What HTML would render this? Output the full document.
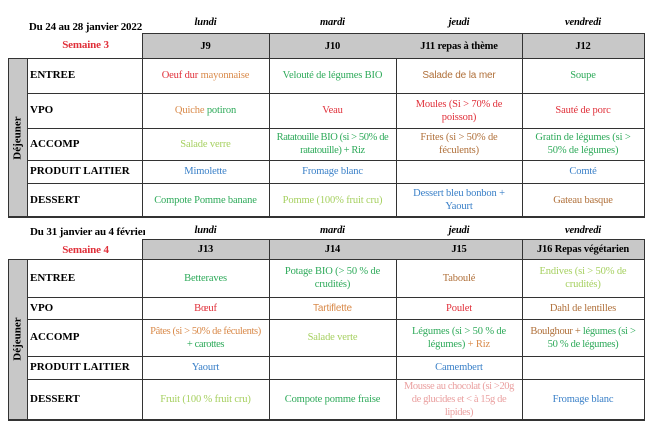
<!DOCTYPE html>
<html><head><meta charset="utf-8"><style>
body{margin:0;width:650px;height:424px;background:#fff;position:relative;overflow:hidden;font-family:"Liberation Serif",serif;font-size:10.5px}
.c{position:absolute;display:flex;align-items:center;justify-content:center;text-align:center;line-height:13px;box-sizing:border-box;white-space:nowrap;letter-spacing:-0.15px}
.l{justify-content:flex-start;padding-left:3px;font-weight:bold;font-size:11px;letter-spacing:0}
.h{background:#c8c8c8;font-weight:bold}
.b{position:absolute;background:#333}
.r{color:#e0303a}.o{color:#d98a4a}.br{color:#b0703a}.g{color:#2eaa5a}.lg{color:#a6d060}.bl{color:#3a80c8}.p{color:#eaa0a0}
.s{font-family:"Liberation Sans",sans-serif;font-size:10px}
.d{font-style:italic;font-weight:bold}
.v{position:absolute;background:#c8c8c8;display:flex;align-items:center;justify-content:center}
.v span{transform:rotate(-90deg);font-weight:bold;white-space:nowrap;font-size:11px}
</style></head><body>

<!-- Table 1 -->
<div class="c" style="left:28px;top:20px;width:115px;height:14px;font-weight:bold;font-size:11px">Du 24 au 28 janvier 2022</div>
<div class="c r" style="left:28px;top:38px;width:115px;height:14px;font-weight:bold;font-size:11px">Semaine 3</div>
<div class="c d" style="left:142px;top:14px;width:127px;height:16px">lundi</div>
<div class="c d" style="left:269px;top:14px;width:127px;height:16px">mardi</div>
<div class="c d" style="left:396px;top:14px;width:126px;height:16px">jeudi</div>
<div class="c d" style="left:522px;top:14px;width:122px;height:16px">vendredi</div>
<div class="c h" style="left:142px;top:34px;width:502px;height:24px"></div>
<div class="c" style="left:142px;top:34px;width:127px;height:24px;font-weight:bold">J9</div>
<div class="c" style="left:269px;top:34px;width:127px;height:24px;font-weight:bold">J10</div>
<div class="c" style="left:396px;top:34px;width:126px;height:24px;font-weight:bold">J11 repas à thème</div>
<div class="c" style="left:522px;top:34px;width:122px;height:24px;font-weight:bold">J12</div>
<div class="v" style="left:8px;top:58px;width:19px;height:159px"><span>Déjeuner</span></div>

<div class="c l" style="left:27px;top:58px;width:115px;height:35px">ENTREE</div>
<div class="c l" style="left:27px;top:93px;width:115px;height:35px">VPO</div>
<div class="c l" style="left:27px;top:128px;width:115px;height:32px">ACCOMP</div>
<div class="c l" style="left:27px;top:160px;width:115px;height:23px">PRODUIT LAITIER</div>
<div class="c l" style="left:27px;top:183px;width:115px;height:34px">DESSERT</div>

<div class="c" style="left:142px;top:58px;width:127px;height:35px"><span><span class="r">Oeuf dur </span><span class="o">mayonnaise</span></span></div>
<div class="c g" style="left:269px;top:58px;width:127px;height:35px">Velouté de légumes BIO</div>
<div class="c br s" style="left:396px;top:58px;width:126px;height:35px">Salade de la mer</div>
<div class="c g" style="left:522px;top:58px;width:122px;height:35px">Soupe</div>

<div class="c" style="left:142px;top:93px;width:127px;height:35px"><span><span class="o">Quiche </span><span class="g">potiron</span></span></div>
<div class="c r" style="left:269px;top:93px;width:127px;height:35px">Veau</div>
<div class="c r" style="left:396px;top:93px;width:126px;height:35px">Moules (Si &gt; 70% de<br>poisson)</div>
<div class="c r" style="left:522px;top:93px;width:122px;height:35px">Sauté de porc</div>

<div class="c lg" style="left:142px;top:128px;width:127px;height:32px">Salade verre</div>
<div class="c g" style="left:269px;top:128px;width:127px;height:32px;letter-spacing:-0.4px">Ratatouille BIO (si &gt; 50% de<br>ratatouille) + Riz</div>
<div class="c br" style="left:396px;top:128px;width:126px;height:32px">Frites (si &gt; 50% de<br>féculents)</div>
<div class="c g" style="left:522px;top:128px;width:122px;height:32px">Gratin de légumes (si &gt;<br>50% de légumes)</div>

<div class="c bl" style="left:142px;top:160px;width:127px;height:23px">Mimolette</div>
<div class="c bl" style="left:269px;top:160px;width:127px;height:23px">Fromage blanc</div>
<div class="c bl" style="left:522px;top:160px;width:122px;height:23px">Comté</div>

<div class="c g" style="left:142px;top:183px;width:127px;height:34px">Compote Pomme banane</div>
<div class="c lg" style="left:269px;top:183px;width:127px;height:34px">Pomme (100% fruit cru)</div>
<div class="c bl" style="left:396px;top:183px;width:126px;height:34px">Dessert bleu bonbon +<br>Yaourt</div>
<div class="c br" style="left:522px;top:183px;width:122px;height:34px">Gateau basque</div>

<!-- lines table1 -->
<div class="b" style="left:142px;top:33px;width:503px;height:1px"></div>
<div class="b" style="left:8px;top:58px;width:637px;height:1px"></div>
<div class="b" style="left:27px;top:93px;width:618px;height:1px"></div>
<div class="b" style="left:27px;top:128px;width:618px;height:1px"></div>
<div class="b" style="left:27px;top:160px;width:618px;height:1px"></div>
<div class="b" style="left:27px;top:183px;width:618px;height:1px"></div>
<div class="b" style="left:8px;top:216px;width:637px;height:2px"></div>
<div class="b" style="left:8px;top:58px;width:1px;height:159px"></div>
<div class="b" style="left:27px;top:58px;width:1px;height:159px"></div>
<div class="b" style="left:142px;top:33px;width:1px;height:184px"></div>
<div class="b" style="left:269px;top:33px;width:1px;height:184px"></div>
<div class="b" style="left:396px;top:58px;width:1px;height:159px"></div>
<div class="b" style="left:522px;top:33px;width:1px;height:184px"></div>
<div class="b" style="left:644px;top:33px;width:1px;height:184px"></div>

<!-- Table 2 -->
<div class="c" style="left:28px;top:225px;width:117px;height:14px;font-weight:bold;font-size:11px;justify-content:flex-start;padding-left:2px;overflow:hidden">Du 31 janvier au 4 février</div>
<div class="c r" style="left:28px;top:243px;width:115px;height:14px;font-weight:bold;font-size:11px">Semaine 4</div>
<div class="c d" style="left:142px;top:222px;width:127px;height:16px">lundi</div>
<div class="c d" style="left:269px;top:222px;width:127px;height:16px">mardi</div>
<div class="c d" style="left:396px;top:222px;width:126px;height:16px">jeudi</div>
<div class="c d" style="left:522px;top:222px;width:122px;height:16px">vendredi</div>
<div class="c h" style="left:142px;top:240px;width:502px;height:19px"></div>
<div class="c" style="left:142px;top:240px;width:127px;height:19px;font-weight:bold">J13</div>
<div class="c" style="left:269px;top:240px;width:127px;height:19px;font-weight:bold">J14</div>
<div class="c" style="left:396px;top:240px;width:126px;height:19px;font-weight:bold">J15</div>
<div class="c" style="left:522px;top:240px;width:122px;height:19px;font-weight:bold">J16 Repas végétarien</div>
<div class="v" style="left:8px;top:259px;width:19px;height:160px"><span>Déjeuner</span></div>

<div class="c l" style="left:27px;top:259px;width:115px;height:38px">ENTREE</div>
<div class="c l" style="left:27px;top:297px;width:115px;height:22px">VPO</div>
<div class="c l" style="left:27px;top:319px;width:115px;height:37px">ACCOMP</div>
<div class="c l" style="left:27px;top:356px;width:115px;height:23px">PRODUIT LAITIER</div>
<div class="c l" style="left:27px;top:379px;width:115px;height:40px">DESSERT</div>

<div class="c g" style="left:142px;top:259px;width:127px;height:38px">Betteraves</div>
<div class="c g" style="left:269px;top:259px;width:127px;height:38px">Potage BIO (&gt; 50 % de<br>crudités)</div>
<div class="c br" style="left:396px;top:259px;width:126px;height:38px">Taboulé</div>
<div class="c lg" style="left:522px;top:259px;width:122px;height:38px">Endives (si &gt; 50% de<br>crudités)</div>

<div class="c r" style="left:142px;top:297px;width:127px;height:22px">Bœuf</div>
<div class="c o s" style="left:269px;top:297px;width:127px;height:22px">Tartiflette</div>
<div class="c r" style="left:396px;top:297px;width:126px;height:22px">Poulet</div>
<div class="c br" style="left:522px;top:297px;width:122px;height:22px">Dahl de lentilles</div>

<div class="c" style="left:142px;top:319px;width:127px;height:37px;letter-spacing:-0.4px"><span><span class="o">Pâtes (si &gt; 50% de féculents)</span><br><span class="g">+ carottes</span></span></div>
<div class="c lg" style="left:269px;top:319px;width:127px;height:37px">Salade verte</div>
<div class="c" style="left:396px;top:319px;width:126px;height:37px"><span><span class="g">Légumes (si &gt; 50 % de<br>légumes) </span><span class="o">+ Riz</span></span></div>
<div class="c" style="left:522px;top:319px;width:122px;height:37px;letter-spacing:-0.3px"><span><span class="br">Boulghour + </span><span class="g">légumes (si &gt;<br>50 % de légumes)</span></span></div>

<div class="c bl" style="left:142px;top:356px;width:127px;height:23px">Yaourt</div>
<div class="c bl" style="left:396px;top:356px;width:126px;height:23px">Camembert</div>

<div class="c lg" style="left:142px;top:379px;width:127px;height:40px">Fruit (100 % fruit cru)</div>
<div class="c g" style="left:269px;top:379px;width:127px;height:40px">Compote pomme fraise</div>
<div class="c p" style="left:396px;top:379px;width:126px;height:40px;letter-spacing:-0.4px">Mousse au chocolat (si &gt;20g<br>de glucides et &lt; à 15g de<br>lipides)</div>
<div class="c bl" style="left:522px;top:379px;width:122px;height:40px">Fromage blanc</div>

<!-- lines table2 -->
<div class="b" style="left:142px;top:239px;width:503px;height:1px"></div>
<div class="b" style="left:8px;top:259px;width:637px;height:1px"></div>
<div class="b" style="left:27px;top:297px;width:618px;height:1px"></div>
<div class="b" style="left:27px;top:319px;width:618px;height:1px"></div>
<div class="b" style="left:27px;top:356px;width:618px;height:1px"></div>
<div class="b" style="left:27px;top:379px;width:618px;height:1px"></div>
<div class="b" style="left:8px;top:419px;width:637px;height:2px"></div>
<div class="b" style="left:8px;top:259px;width:1px;height:161px"></div>
<div class="b" style="left:27px;top:259px;width:1px;height:161px"></div>
<div class="b" style="left:142px;top:239px;width:1px;height:181px"></div>
<div class="b" style="left:269px;top:239px;width:1px;height:181px"></div>
<div class="b" style="left:396px;top:259px;width:1px;height:161px"></div>
<div class="b" style="left:522px;top:239px;width:1px;height:181px"></div>
<div class="b" style="left:644px;top:239px;width:1px;height:181px"></div>
</body></html>
